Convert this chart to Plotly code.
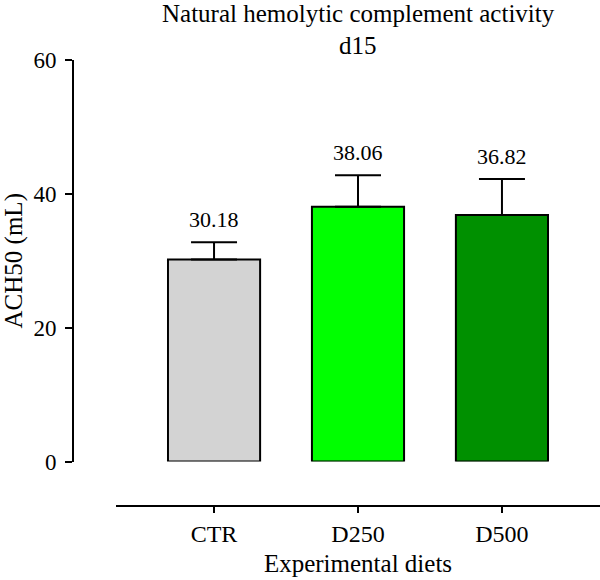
import plotly.graph_objects as go

categories = ["CTR", "D250", "D500"]
means = [30.18, 38.06, 36.82]
errors = [2.6, 4.7, 5.4]
value_labels = ["30.18", "38.06", "36.82"]
bar_colors = ["#d3d3d3", "#00ff00", "#009000"]
y_ticks = [0, 20, 40, 60]
title_lines = ["Natural hemolytic complement activity", "d15"]

FONT = "Liberation Serif"
W, H = 600, 580
ML, MR, MT, MB = 73, 0, 60, 74

fig = go.Figure()
fig.add_trace(go.Bar(
    x=categories, y=means,
    marker=dict(color=bar_colors, line=dict(color="black", width=2)),
    width=0.64,
    error_y=dict(type="data", array=errors, symmetric=False, arrayminus=[0, 0, 0],
                 color="black", thickness=2, width=23),
    showlegend=False, hoverinfo="skip",
))

for c, m, e, lab in zip(categories, means, errors, value_labels):
    fig.add_annotation(x=c, y=m + e, text=lab, showarrow=False,
                       xref="x", yref="y", yanchor="bottom", yshift=8,
                       font=dict(family=FONT, size=22, color="black"))

plot_h = H - MT - MB
y0_px = 461.5
ydom0 = (H - MB - y0_px) / plot_h
xdom0 = (116 - ML) / (W - ML - MR)

def paper_y(py):
    return (H - MB - py) / plot_h

title_centers = [13, 45]
for line, py in zip(title_lines, title_centers):
    fig.add_annotation(x=(358 - ML) / (W - ML - MR), xref="paper",
                       y=paper_y(py), yref="paper",
                       text=line, showarrow=False, xanchor="center", yanchor="middle",
                       borderpad=0,
                       font=dict(family=FONT, size=25, color="black"))

fig.update_layout(
    width=W, height=H,
    margin=dict(l=ML, r=MR, t=MT, b=MB, pad=0),
    paper_bgcolor="white", plot_bgcolor="white",
    font=dict(family=FONT, size=21, color="black"),
    xaxis=dict(
        domain=[xdom0, 1], anchor="free", position=0,
        range=[-0.681, 2.681],
        showline=True, linecolor="black", linewidth=2,
        ticks="outside", ticklen=6, tickwidth=2, tickcolor="black",
        showgrid=False, zeroline=False,
        title=dict(text="Experimental diets", standoff=8, font=dict(size=25)),
        tickfont=dict(size=24),
    ),
    yaxis=dict(
        domain=[ydom0, 1], anchor="free", position=0,
        range=[0, 60], tickvals=y_ticks,
        showline=True, linecolor="black", linewidth=2,
        ticks="outside", ticklen=7, tickwidth=2, tickcolor="black",
        ticklabelstandoff=4,
        showgrid=False, zeroline=False,
        title=dict(text="ACH50 (mL)", standoff=8, font=dict(size=25)),
        tickfont=dict(size=23),
    ),
)

fig.write_html("out.html")
